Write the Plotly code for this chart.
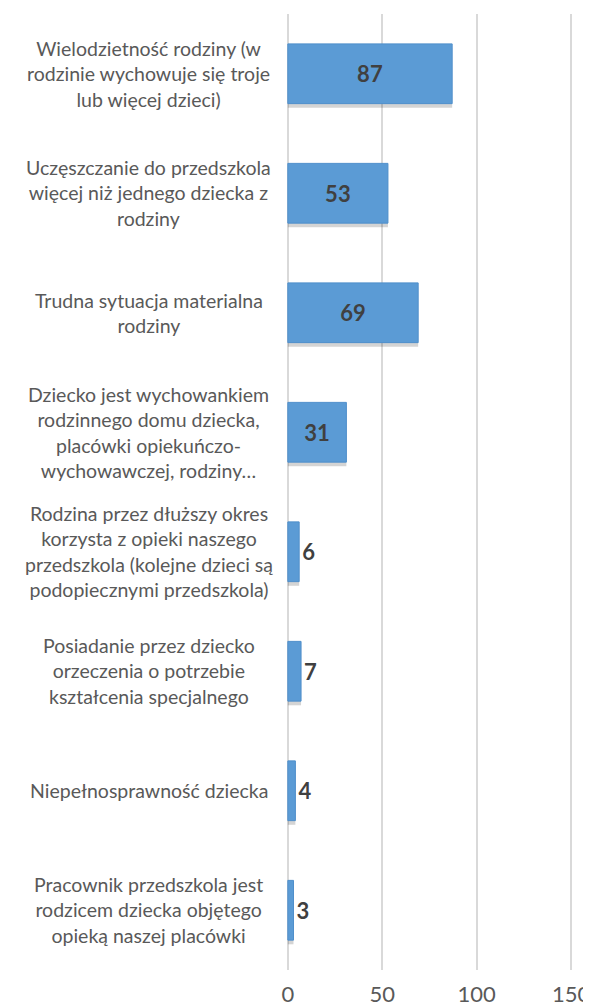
import plotly.graph_objects as go

categories = [
    "Wielodzietność rodziny (w<br>rodzinie wychowuje się troje<br>lub więcej dzieci)",
    "Uczęszczanie do przedszkola<br>więcej niż jednego dziecka z<br>rodziny",
    "Trudna sytuacja materialna<br>rodziny",
    "Dziecko jest wychowankiem<br>rodzinnego domu dziecka,<br>placówki opiekuńczo-<br>wychowawczej, rodziny…",
    "Rodzina przez dłuższy okres<br>korzysta z opieki naszego<br>przedszkola (kolejne dzieci są<br>podopiecznymi przedszkola)",
    "Posiadanie przez dziecko<br>orzeczenia o potrzebie<br>kształcenia specjalnego",
    "Niepełnosprawność dziecka",
    "Pracownik przedszkola jest<br>rodzicem dziecka objętego<br>opieką naszej placówki",
]
values = [87, 53, 69, 31, 6, 7, 4, 3]
tick_vals = [0, 50, 100, 150]

idx = list(range(len(categories)))
text_pos = ["inside" if v > 20 else "outside" for v in values]

fig = go.Figure()

# soft drop shadow under each bar
fig.add_trace(go.Bar(
    y=idx, x=values, orientation="h",
    width=0.5, offset=-0.25 + 0.035,
    marker=dict(color="rgba(0,0,0,0.17)", line=dict(width=0)),
    hoverinfo="skip", showlegend=False))

fig.add_trace(go.Bar(
    y=idx, x=values, orientation="h",
    width=0.5,
    marker=dict(color="#5b9bd5", line=dict(color="#4f8fcb", width=1)),
    text=values, textposition=text_pos,
    insidetextanchor="middle",
    textfont=dict(family="Lato", size=22, color="#404040", weight="bold"),
    cliponaxis=False, showlegend=False))

# category labels, centred like in the original
for i, c in zip(idx, categories):
    fig.add_annotation(
        x=-0.4706, xref="paper", y=i, yref="y",
        text=c, showarrow=False, align="center", xanchor="center",
        font=dict(family="Lato", size=19.5, color="#595959"))

# page body adds 8px margin, so the figure is laid out 8px up/left of the shot
fig.update_layout(
    width=591, height=1007,
    margin=dict(l=277, r=25, t=6, b=45),
    plot_bgcolor="white", paper_bgcolor="white",
    barmode="overlay",
    xaxis=dict(range=[-1.5, 151.5], tickvals=tick_vals, showgrid=True,
               gridcolor="#d9d9d9", gridwidth=1.5,
               zeroline=True, zerolinecolor="#d9d9d9", zerolinewidth=1.5,
               showline=False, ticks="", automargin=False,
               ticklabelstandoff=9,
               tickfont=dict(family="Lato", size=22, color="#595959")),
    yaxis=dict(range=[7.5, -0.5], showticklabels=False, showgrid=False,
               zeroline=False, showline=False, automargin=False),
)

fig.write_html("out.html")
